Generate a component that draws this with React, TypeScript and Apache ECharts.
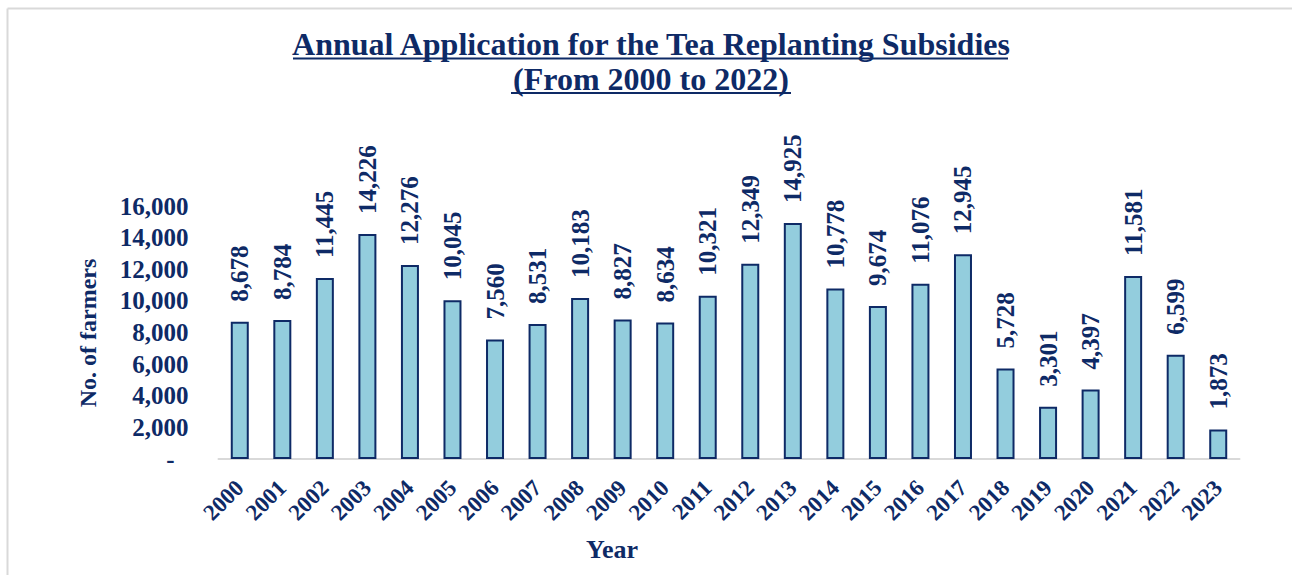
import React, { useEffect, useRef } from "react";
import * as echarts from "echarts";

const years = ["2000","2001","2002","2003","2004","2005","2006","2007","2008","2009","2010","2011","2012","2013","2014","2015","2016","2017","2018","2019","2020","2021","2022","2023"];
const farmers = [8678, 8784, 11445, 14226, 12276, 10045, 7560, 8531, 10183, 8827, 8634, 10321, 12349, 14925, 10778, 9674, 11076, 12945, 5728, 3301, 4397, 11581, 6599, 1873];
const titleLines = ["Annual Application for the Tea Replanting Subsidies", "(From 2000 to 2022)"];
const yName = "No. of farmers";
const xName = "Year";

const NAVY = "#0e2a66";
const FONT = "Liberation Serif";

export default function App() {
  const ref = useRef<HTMLDivElement>(null);
  useEffect(() => {
    if (!ref.current) return;
    const chart = echarts.init(ref.current, null, { renderer: "svg" });
    const fmt = (v: number) => v.toLocaleString("en-US");
    const txt = (size: number) => ({ fontFamily: FONT, fontWeight: "bold", fontSize: size, fill: NAVY });
    chart.setOption({
      animation: false,
      backgroundColor: "#ffffff",
      grid: { left: 218.5, right: 52.5, top: 206, bottom: 116, containLabel: false },
      graphic: [
        { type: "line", shape: { x1: 7.5, y1: 8.5, x2: 1292, y2: 8.5 }, style: { stroke: "#d9d9d9", lineWidth: 2 } },
        { type: "line", shape: { x1: 7.5, y1: 8.5, x2: 7.5, y2: 575 }, style: { stroke: "#d9d9d9", lineWidth: 2 } },
        { type: "text", x: 651, y: 44, style: { text: titleLines[0], ...txt(32), align: "center", verticalAlign: "middle" } },
        { type: "line", shape: { x1: 293, y1: 58.5, x2: 1008, y2: 58.5 }, style: { stroke: NAVY, lineWidth: 2 } },
        { type: "text", x: 651, y: 78.5, style: { text: titleLines[1], ...txt(32), align: "center", verticalAlign: "middle" } },
        { type: "line", shape: { x1: 511, y1: 93, x2: 791, y2: 93 }, style: { stroke: NAVY, lineWidth: 2 } },
        { type: "text", x: 88, y: 333, rotation: Math.PI / 2, style: { text: yName, ...txt(24), align: "center", verticalAlign: "middle" } },
        { type: "text", x: 612, y: 549, style: { text: xName, ...txt(26), align: "center", verticalAlign: "middle" } },
      ],
      xAxis: {
        type: "category",
        data: years,
        axisLine: { show: true, lineStyle: { color: "#d9d9d9", width: 2 } },
        axisTick: { show: false },
        axisLabel: {
          interval: 0,
          rotate: 45,
          margin: 25,
          color: NAVY,
          fontFamily: FONT,
          fontWeight: "bold",
          fontSize: 23,
        },
      },
      yAxis: {
        type: "value",
        min: 0,
        max: 16000,
        interval: 2000,
        splitLine: { show: false },
        axisLine: { show: false },
        axisTick: { show: false },
        axisLabel: {
          margin: 30,
          color: NAVY,
          fontFamily: FONT,
          fontWeight: "bold",
          fontSize: 25,
          formatter: (v: number) => (v === 0 ? "{d|-}" : fmt(v)),
          rich: { d: { padding: [0, 14, 0, 0], color: NAVY, fontFamily: FONT, fontWeight: "bold", fontSize: 25 } },
        },
      },
      series: [
        {
          type: "bar",
          data: farmers,
          barWidth: 18,
          itemStyle: { color: "#93cddd", borderColor: NAVY, borderWidth: 2 },
          label: {
            show: true,
            position: "top",
            rotate: 90,
            align: "left",
            verticalAlign: "middle",
            distance: 20,
            color: NAVY,
            fontFamily: FONT,
            fontWeight: "bold",
            fontSize: 25,
            formatter: (p: any) => fmt(p.value),
          },
        },
      ],
    });
    return () => chart.dispose();
  }, []);
  return <div ref={ref} style={{ position: "fixed", left: 0, top: 0, width: 1292, height: 575 }} />;
}
